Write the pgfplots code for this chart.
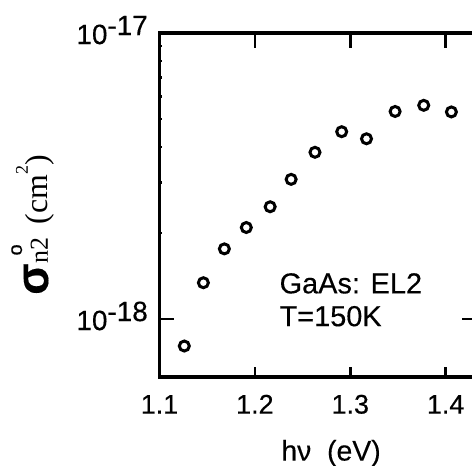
\documentclass[border=0pt]{standalone}
\usepackage{fontspec}
\setmainfont{Liberation Sans}[FakeBold=0.3]
\newfontfamily\heavy{Liberation Sans}[FakeBold=0.35]
\newfontfamily\serif{Liberation Serif}
\usepackage{pgfplots}
\pgfplotsset{compat=1.18}
\pgfplotsset{
  myframe/.style={
    at={(159.5bp,89bp)}, anchor=south west,
    scale only axis, width=316.5bp, height=344bp,
    xmin=1.1, xmax=1.4318,
    ymin=6.27e-19, ymax=1e-17,
    tick align=inside, minor tick num=0,
    xtick={1.1,1.2,1.3,1.4},
  }
}

\begin{document}
\begin{tikzpicture}
\path[use as bounding box] (0,0) rectangle (472bp,466bp);
\clip (0,0) rectangle (472bp,466bp);
% bottom ticks are shorter than the top ones
\begin{semilogyaxis}[myframe,
  axis line style={draw=none},
  xtick pos=left, ytick=\empty,
  xticklabels={},
  major tick length=10bp,
  every tick/.style={black, line width=2.5bp}]
\end{semilogyaxis}
\begin{semilogyaxis}[myframe,
  axis line style={line width=3.5bp},
  every tick/.style={black, line width=2.5bp},
  major tick length=14.5bp,
  xtick pos=right, xticklabel pos=left,
  ytick pos=both, yticklabel pos=left,
  ytick={1e-18,1e-17},
  xticklabels={1.1,1.2,1.3,1.4},
  yticklabels={10\raisebox{9bp}{-18},10\raisebox{9bp}{-17}},
  xticklabel style={font=\heavy\fontsize{27}{27}\selectfont, anchor=base, inner sep=0pt, yshift=-36.5bp},
  yticklabel style={font=\heavy\fontsize{28}{28}\selectfont, anchor=base east, inner sep=0pt, xshift=-11.5bp, yshift=-11bp},
  clip=false]
\addplot[only marks, mark=o, mark size=5bp, line width=3bp, black] coordinates {
  (1.126,8.05e-19) (1.146,1.34e-18) (1.168,1.76e-18) (1.191,2.09e-18)
  (1.216,2.47e-18) (1.238,3.08e-18) (1.263,3.83e-18) (1.291,4.52e-18)
  (1.317,4.27e-18) (1.347,5.32e-18) (1.377,5.59e-18) (1.406,5.30e-18)};
\node[anchor=base west, inner sep=0pt, font=\fontsize{29}{29}\selectfont]
  at (axis description cs:0.379,0.2433) {GaAs: EL2};
\node[anchor=base west, inner sep=0pt, font=\fontsize{29}{29}\selectfont]
  at (axis description cs:0.379,0.148) {T=150K};
\node[anchor=base, inner sep=0pt, font=\fontsize{28.5}{28.5}\selectfont]
  at (axis description cs:0.542,-0.2427) {hν\ \ (eV)};
\node[rotate=90, anchor=base, inner sep=0pt]
  at (axis description cs:-0.3523,0.4419)
  {{\fontsize{46}{46}\selectfont\bfseries σ}\makebox[0pt][l]{\makebox[27bp][c]{\raisebox{26bp}{\fontsize{20}{20}\selectfont o}}}{\serif\fontsize{26}{26}\selectfont n2}\hspace{13bp}{\serif\fontsize{32}{32}\selectfont (cm\raisebox{20bp}{\fontsize{18}{18}\selectfont 2})}};
\end{semilogyaxis}
\end{tikzpicture}
\end{document}
